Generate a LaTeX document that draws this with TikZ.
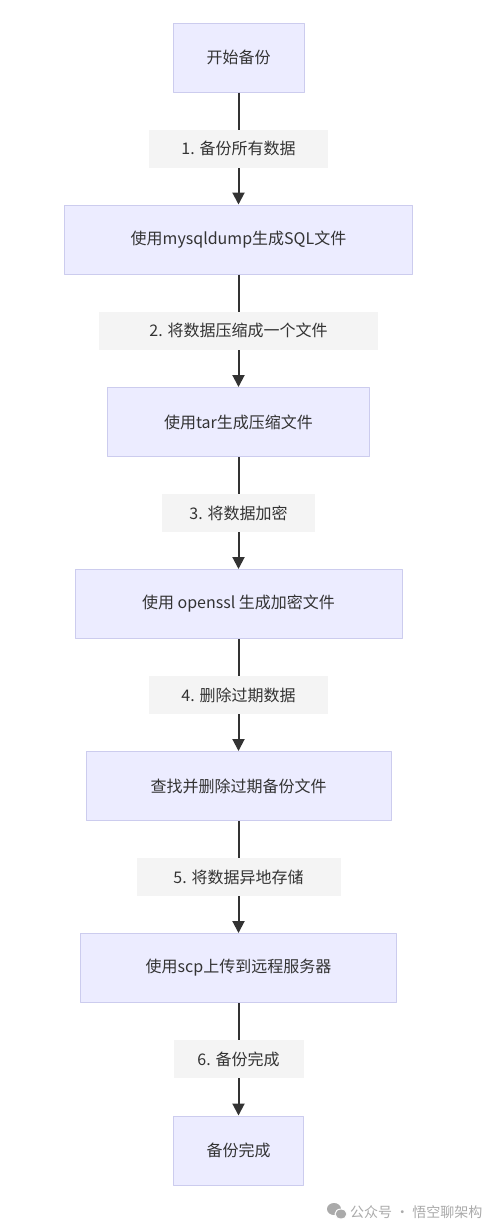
\documentclass[tikz,border=0pt]{standalone}
\usepackage{fontspec}
\setmainfont{Noto Sans CJK SC}
\usetikzlibrary{arrows.meta}

\begin{document}
\begin{tikzpicture}[
  x=1pt, y=1pt,
  line cap=round,
  line join=round,
  stepbox/.style={draw=myborder, fill=myfill, line width=1pt, minimum height=69pt,
    inner sep=0pt, text=mytext, font=\fontsize{16}{19}\selectfont},
  lab/.style={fill=mylabel, minimum height=38pt, inner sep=0pt, text=mytext,
    font=\fontsize{16}{19}\selectfont},
  flow/.style={line width=2pt, draw=myarrow, line cap=butt,
    -{Triangle[length=12pt,width=12pt]}}
]

% --- Colors ---
\definecolor{myfill}{RGB}{236,236,255}
\definecolor{myborder}{RGB}{204,204,238}
\definecolor{mylabel}{RGB}{244,244,244}
\definecolor{mytext}{RGB}{51,51,51}
\definecolor{myarrow}{RGB}{51,51,51}
\definecolor{mymark}{RGB}{170,170,170}

% --- Canvas ---
\fill[white] (0,0) rectangle (500,-1232);
\useasboundingbox (0,0) rectangle (500,-1232);

\def\cx{238.5}   % centre line of the flow

% --- Steps ---
\node[stepbox, minimum width=131pt] (start)   at (\cx,-57.5)  {开始备份};
\node[stepbox, minimum width=348pt] (dump)    at (\cx,-239.5) {使用mysqldump生成SQL文件};
\node[stepbox, minimum width=262pt] (tar)     at (\cx,-422)   {使用tar生成压缩文件};
\node[stepbox, minimum width=327pt] (crypt)   at (\cx,-604)   {使用 openssl 生成加密文件};
\node[stepbox, minimum width=305pt] (clean)   at (\cx,-786)   {查找并删除过期备份文件};
\node[stepbox, minimum width=316pt] (upload)  at (\cx,-968)   {使用scp上传到远程服务器};
\node[stepbox, minimum width=130pt] (done)    at (\cx,-1150.5){备份完成};

% --- Links ---
\draw[flow] (start)  -- node[lab, minimum width=179pt] (l1) {1. 备份所有数据} (dump);
\draw[flow] (dump)   -- node[lab, minimum width=279pt] (l2) {2. 将数据压缩成一个文件} (tar);
\draw[flow] (tar)    -- node[lab, minimum width=153pt] (l3) {3. 将数据加密} (crypt);
\draw[flow] (crypt)  -- node[lab, minimum width=179pt] (l4) {4. 删除过期数据} (clean);
\draw[flow] (clean)  -- node[lab, minimum width=204pt] (l5) {5. 将数据异地存储} (upload);
\draw[flow] (upload) -- node[lab, minimum width=130pt] (l6) {6. 备份完成} (done);

% --- Watermark ---
\fill[mymark] (334,-1209) ellipse[x radius=7, y radius=6];
\filldraw[mymark, draw=white, line width=1pt] (341,-1214) ellipse[x radius=6, y radius=5];
\node[anchor=west, inner sep=0pt, text=mymark, font=\fontsize{14}{16}\selectfont]
  (mark) at (350,-1212) {公众号 · 悟空聊架构};
\end{tikzpicture}
\end{document}
